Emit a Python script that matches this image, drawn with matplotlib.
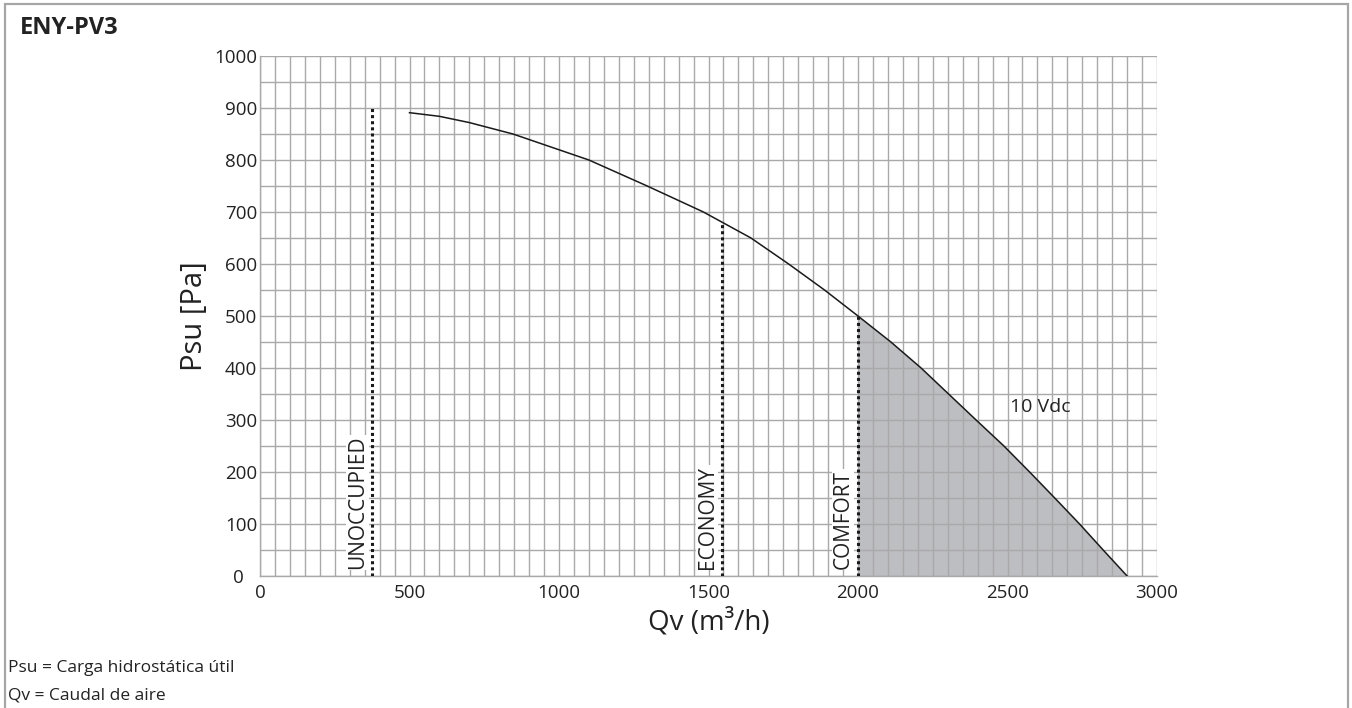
"""Fan curve chart for the ENY-PV3 unit."""
import matplotlib
matplotlib.use('Agg')
import matplotlib.pyplot as plt
import matplotlib.patches as patches
from matplotlib.ticker import MultipleLocator

# Curve (flow where the curve crosses each level)
flow = [500, 600, 700, 846, 1100, 1295, 1483, 1642, 1768, 1888, 2000,
        2110, 2211, 2303, 2395, 2488, 2574, 2658, 2741, 2820, 2900]
pressure = [891, 884, 872, 850, 800, 750, 700, 650, 600, 550, 500,
            450, 400, 350, 300, 250, 200, 150, 100, 50, 0]

# Operating modes: name, flow, top of the dotted marker
modes = ['UNOCCUPIED', 'ECONOMY', 'COMFORT']
mode_flow = [375, 1545, 2000]
mode_top = [900, 678, 500]

curve_label = '10 Vdc'
title = 'ENY-PV3'
notes = ['Psu = Carga hidrostática útil', 'Qv = Caudal de aire']

plt.rcParams['font.family'] = ['Open Sans', 'DejaVu Sans']

fig = plt.figure(figsize=(13.52, 7.08), dpi=100)
ax = fig.add_axes([260 / 1352, 1 - 576 / 708, 897 / 1352, 520 / 708])

ax.set_xlim(0, 3000)
ax.set_ylim(0, 1000)
ax.xaxis.set_major_locator(MultipleLocator(500))
ax.xaxis.set_minor_locator(MultipleLocator(50))
ax.yaxis.set_major_locator(MultipleLocator(100))
ax.yaxis.set_minor_locator(MultipleLocator(50))
ax.grid(True, which='both', color='#a9a9a9', linewidth=1.0)
ax.tick_params(which='both', length=0, labelsize=13.5, colors='#222222')
ax.tick_params(axis='y', pad=2)
ax.tick_params(axis='x', pad=6)
for spine in ax.spines.values():
    spine.set_color('#a9a9a9')
    spine.set_linewidth(1.0)
ax.spines['top'].set_visible(False)
ax.spines['right'].set_visible(False)

# shaded working zone from COMFORT to the end of the curve
zone_x = [f for f in flow if f >= mode_flow[2]]
zone_y = [p for f, p in zip(flow, pressure) if f >= mode_flow[2]]
ax.fill_between(zone_x, zone_y, 0, color='#bdbec2', linewidth=0, zorder=1)

ax.plot(flow, pressure, color='#1a1a1a', linewidth=1.1, zorder=3)

for name, f, top in zip(modes, mode_flow, mode_top):
    ax.plot([f, f], [0, top], color='#1a1a1a', linewidth=2.2,
            linestyle=(0, (1, 1)), zorder=3)
    ax.annotate(name, xy=(f, 0), xytext=(-3, 5), textcoords='offset points',
                rotation=90, ha='right', va='bottom', fontsize=15,
                color='#222222', zorder=4,
                bbox=dict(facecolor='white', edgecolor='none', pad=0.5))

ax.text(2510, 325, curve_label, fontsize=14, color='#222222',
        va='center', ha='left', zorder=4)

ax.set_xlabel('Qv (m³/h)', fontsize=20, color='#222222', labelpad=4)
ax.set_ylabel('Psu [Pa]', fontsize=21, color='#222222', labelpad=4)

# the y "0" sits further left so it does not touch the x "0"
fig.canvas.draw()
for tick in ax.yaxis.get_major_ticks():
    if tick.get_loc() == 0:
        tick.set_pad(12)

fig.text(20 / 1352, 1 - 28.5 / 708, title, fontsize=17, fontweight='bold',
         color='#222222', va='center', ha='left')
for i, note in enumerate(notes):
    fig.text(8 / 1352, 1 - (668 + 27 * i) / 708, note, fontsize=12.5,
             color='#222222', va='center', ha='left')

fig.patches.append(patches.Rectangle(
    (5 / 1352, -0.05), 1343 / 1352, 1.05 - 4 / 708,
    transform=fig.transFigure, fill=False, edgecolor='#a6a6a6',
    linewidth=1.6))

fig.savefig('out.png', dpi=100)
plt.close(fig)
